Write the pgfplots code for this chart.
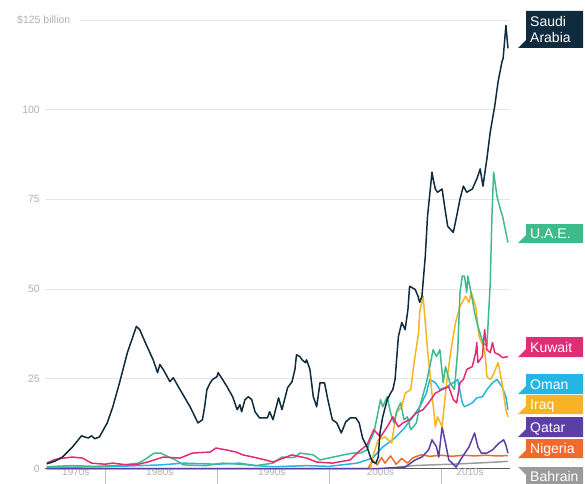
\documentclass[border=0pt]{standalone}
\usepackage{pgfplots}
\pgfplotsset{compat=1.18}
\usepackage{fontspec}
\setmainfont{Liberation Sans}
\definecolor{saudi}{HTML}{0F2B3D}
\definecolor{uae}{HTML}{3DBB8B}
\definecolor{kuwait}{HTML}{E22C76}
\definecolor{oman}{HTML}{22B6E4}
\definecolor{iraq}{HTML}{F6B324}
\definecolor{qatar}{HTML}{5B3FA5}
\definecolor{nigeria}{HTML}{F26A2B}
\definecolor{bahrain}{HTML}{9B9B9B}
\definecolor{tickgray}{HTML}{B0B0B0}
\definecolor{gridgray}{HTML}{E6E6E6}
\newcommand\flag[4]{%
  \fill[#3] (526,{483-#1}) -- (583,{483-#1}) -- (583,{483-#2}) -- (518,{483-#2}) -- (526,{483-#2+8}) -- cycle;
  \node[anchor=base west,inner sep=0pt,text=white,font=\fontsize{14}{16}\selectfont] at (530,{483-#2+5}) {#4};}
\begin{document}
\begin{tikzpicture}
\path[use as bounding box] (0pt,0pt) rectangle (585pt,483pt);
\begin{axis}[
  at={(44.5pt,14.5pt)}, anchor=south west,
  scale only axis, width=465.9pt, height=448.5pt,
  xmin=1974.6, xmax=2016.2, ymin=0, ymax=125,
  clip=false,
  axis x line*=bottom, axis y line*=left,
  x axis line style={draw=black!65, line width=1pt},
  y axis line style={draw=none},
  ytick={0,25,50,75,100}, yticklabels={0,25,50,75,100},
  ymajorgrids, grid style={gridgray, line width=0.9pt},
  yticklabel style={font=\fontsize{10.5}{12}\selectfont, text=tickgray, anchor=east, inner sep=0pt, xshift=-4.5pt},
  xtick={1977.4,1984.9,1994.9,2004.6,2012.6},
  xticklabels={1970s,1980s,1990s,2000s,2010s},
  xticklabel style={font=\fontsize{10}{12}\selectfont, text=tickgray, anchor=north, inner sep=0pt},
  major tick length=0pt, tick align=outside,
  extra x ticks={1980,1990,2000,2010}, extra x tick labels={},
  extra x tick style={major tick length=16pt, tick style={black!25, line width=0.8pt}, grid=none},
  every axis plot/.append style={line width=1.5pt, line join=round, no markers},
]
\draw[gridgray, line width=0.9pt] (axis cs:1977.8,125) -- (axis cs:2016.2,125);
% Bahrain
\addplot[bahrain] coordinates {(2005.0,0) (2006.0,0.3) (2007.5,0.8) (2009,1.0) (2011,1.2) (2013,1.5) (2015,1.8) (2015.98,2.0)};
% Nigeria
\addplot[nigeria] coordinates {(1974.8,0) (2003.5,0) (2003.9,2.4) (2004.3,1.0) (2004.7,3.0) (2005.0,1.5) (2005.5,3.5) (2006.0,1.2) (2006.5,2.8) (2007.0,1.5) (2007.5,3.0) (2008.2,3.8) (2009.0,3.4) (2010.0,3.7) (2011.0,3.4) (2012.0,3.7) (2013.0,3.5) (2014.0,3.7) (2015.0,3.5) (2015.98,3.6)};
% Qatar
\addplot[qatar] coordinates {(1974.8,0) (2004.5,0) (2006.8,0.4) (2007.7,2.4) (2008.3,3.2) (2008.9,5.2) (2009.2,8.0) (2009.6,6.0) (2009.8,3.2) (2010.1,11.6) (2010.4,7.1) (2010.7,2.4) (2011.35,0.4) (2011.9,3.2) (2012.5,6.0) (2013.0,9.9) (2013.3,6.0) (2013.6,4.3) (2014.1,4.3) (2014.6,5.2) (2015.2,7.1) (2015.6,8.0) (2015.8,6.5) (2015.98,4.3)};
% Oman
\addplot[oman] coordinates {(1974.8,0.3) (1980,0.5) (1985,1.0) (1987,1.5) (1990,1.2) (1992,1.5) (1993.5,0.8) (1995,0.5) (1998,0.8) (2000,0.6) (2002.5,1.5) (2003.9,2.9) (2004.8,6.0) (2005.7,8.0) (2006.6,10.8) (2007.5,14.4) (2008.1,17.2) (2008.7,21.0) (2009.0,24.8) (2009.5,23.9) (2009.9,22.0) (2010.5,22.8) (2011.1,23.9) (2011.5,24.8) (2011.9,18.3) (2012.1,17.2) (2012.8,18.3) (2013.2,19.7) (2013.7,20.0) (2014.1,22.0) (2014.6,23.9) (2015.0,24.8) (2015.45,22.8) (2015.8,20.0) (2015.98,16.4)};
% Iraq
\addplot[iraq] coordinates {(2003.7,0.0) (2003.9,3.2) (2004.4,8.0) (2005.0,8.8) (2005.6,7.1) (2006.0,15.5) (2006.5,17.2) (2006.8,21.0) (2007.3,22.0) (2007.6,29.5) (2008.0,37.8) (2008.1,43.5) (2008.4,48.0) (2008.6,40.7) (2008.8,33.1) (2009.1,23.9) (2009.5,11.6) (2009.7,14.4) (2010.1,11.6) (2010.5,23.9) (2010.9,33.1) (2011.3,40.7) (2011.7,45.2) (2012.2,48.0) (2012.5,46.3) (2012.7,49.1) (2013.1,45.2) (2013.4,36.8) (2013.9,33.1) (2014.1,25.6) (2014.4,24.8) (2014.6,25.6) (2015.1,29.5) (2015.45,23.9) (2015.8,16.4) (2015.98,14.4)};
% UAE
\addplot[uae] coordinates {(1974.8,0.5) (1977,0.8) (1979,0.6) (1981,0.8) (1983.0,1.5) (1983.5,2.4) (1984.4,4.3) (1985.0,4.3) (1985.7,3.2) (1986.3,2.4) (1987,1.0) (1989,0.8) (1990.5,1.5) (1992,1.2) (1993.5,0.8) (1995,1.5) (1995.8,3.2) (1996.5,3.0) (1997.0,3.2) (1997.4,4.3) (1998.6,3.8) (1999.2,2.4) (2000.4,3.2) (2001.3,3.8) (2002.1,4.3) (2002.8,4.3) (2003.4,5.2) (2003.7,8.0) (2004.0,9.9) (2004.3,14.4) (2004.6,19.2) (2004.8,17.2) (2005.2,20.0) (2005.5,15.5) (2005.8,12.7) (2006.1,16.4) (2006.4,18.3) (2006.7,13.6) (2007.0,14.4) (2007.3,10.8) (2007.8,12.7) (2008.1,17.2) (2008.7,23.9) (2009.0,28.4) (2009.3,33.1) (2009.6,31.2) (2009.9,33.1) (2010.2,23.9) (2010.4,28.4) (2010.8,23.9) (2011.2,22.0) (2011.5,33.1) (2011.7,49.1) (2011.9,53.6) (2012.1,53.6) (2012.3,49.1) (2012.4,53.6) (2012.8,47.1) (2013.0,43.5) (2013.3,39.6) (2013.75,35.1) (2014.1,34.0) (2014.4,51.8) (2014.55,70.3) (2014.7,82.6) (2015.0,75.9) (2015.3,72.3) (2015.5,70.3) (2015.98,63.0)};
% Kuwait
\addplot[kuwait] coordinates {(1974.8,1.5) (1975.5,2.5) (1976.3,2.9) (1977.1,3.2) (1978.0,2.9) (1978.8,1.5) (1980.0,1.2) (1980.7,1.5) (1982.0,1.0) (1983.0,1.2) (1983.8,1.8) (1985.2,3.2) (1986.7,2.9) (1987.8,4.3) (1989.4,4.6) (1989.9,5.7) (1990.8,5.2) (1991.7,4.6) (1992.3,3.8) (1993.2,3.2) (1994.3,2.4) (1995.0,1.8) (1996.7,3.8) (1998.0,2.9) (1998.9,1.8) (2000.3,1.5) (2001.9,2.4) (2002.5,4.3) (2003.4,6.6) (2004.0,10.8) (2004.6,8.8) (2005.2,11.6) (2005.7,14.4) (2006.2,11.6) (2006.6,12.7) (2007.2,13.6) (2007.8,15.5) (2008.4,16.4) (2008.9,18.3) (2009.5,21.0) (2010.1,22.0) (2010.7,22.8) (2011.1,19.2) (2011.4,18.3) (2011.7,23.9) (2012.0,24.8) (2012.3,27.6) (2012.8,28.4) (2013.1,32.3) (2013.2,35.1) (2013.3,29.5) (2013.7,31.2) (2013.9,38.7) (2014.1,33.1) (2014.4,32.3) (2014.6,35.1) (2014.8,32.3) (2015.2,31.7) (2015.5,30.9) (2015.98,31.2)};
% Saudi Arabia
\addplot[saudi] coordinates {(1974.8,1.3) (1975.5,2.0) (1976.2,3.2) (1977.1,6.0) (1977.9,9.1) (1978.5,8.5) (1978.8,9.1) (1979.1,8.3) (1979.5,8.8) (1980.2,12.7) (1980.7,17.2) (1981.3,23.9) (1982.0,32.3) (1982.4,35.9) (1982.8,39.6) (1983.1,38.7) (1983.6,35.1) (1984.3,30.3) (1984.7,26.7) (1984.9,29.0) (1985.2,27.6) (1985.8,24.2) (1986.1,25.3) (1986.7,22.0) (1987.6,17.2) (1988.3,12.7) (1988.7,13.6) (1988.9,17.2) (1989.1,22.0) (1989.4,23.9) (1989.6,24.8) (1990.0,25.6) (1990.1,26.7) (1990.5,24.8) (1990.9,22.8) (1991.4,20.0) (1991.8,16.4) (1992.05,17.8) (1992.2,15.8) (1992.5,19.2) (1992.8,20.0) (1993.1,19.2) (1993.4,15.8) (1993.8,14.1) (1994.5,14.1) (1994.7,15.8) (1995.0,13.6) (1995.5,19.7) (1995.8,16.4) (1996.1,20.0) (1996.3,22.5) (1996.7,24.2) (1996.96,27.6) (1997.1,31.7) (1997.4,31.2) (1997.6,30.3) (1997.9,29.5) (1998.0,30.3) (1998.3,27.6) (1998.6,20.0) (1998.9,17.2) (1999.2,23.9) (1999.6,23.9) (1999.9,19.2) (2000.3,13.6) (2000.7,12.7) (2001.1,9.9) (2001.5,13.0) (2001.9,14.1) (2002.4,14.1) (2002.7,12.7) (2003.0,8.5) (2003.4,6.0) (2003.7,3.2) (2003.9,1.8) (2004.2,1.5) (2004.4,3.2) (2004.55,9.9) (2004.8,14.4) (2005.2,19.2) (2005.5,21.0) (2005.7,22.0) (2005.9,24.8) (2006.2,36.8) (2006.5,40.7) (2006.8,38.7) (2007.05,44.3) (2007.2,50.8) (2007.7,49.9) (2007.95,48.0) (2008.1,46.3) (2008.3,48.0) (2008.6,59.2) (2008.8,70.3) (2009.2,82.6) (2009.3,80.7) (2009.5,77.9) (2009.7,77.0) (2010.1,77.9) (2010.4,71.5) (2010.6,67.5) (2011.1,65.8) (2011.4,70.3) (2011.7,75.1) (2012.0,78.7) (2012.3,77.0) (2012.8,77.9) (2013.2,80.7) (2013.5,83.5) (2013.75,78.7) (2014.1,86.3) (2014.4,93.8) (2014.8,101.0) (2015.1,107.8) (2015.45,113.4) (2015.55,114.3) (2015.8,123.5) (2015.98,117.1)};
\end{axis}
\node[anchor=west,inner sep=0pt,text=tickgray,font=\fontsize{10.5}{12}\selectfont] at (17pt,463pt) {\$125 billion};
\begin{scope}[x=1pt,y=1pt]
\fill[saudi] (526,472) -- (583,472) -- (583,435) -- (518,435) -- (526,443) -- cycle;
\node[anchor=base west,inner sep=0pt,text=white,font=\fontsize{14}{16}\selectfont] at (530,456) {Saudi};
\node[anchor=base west,inner sep=0pt,text=white,font=\fontsize{14}{16}\selectfont] at (530,440) {Arabia};
\flag{224}{243}{uae}{U.A.E.}
\flag{337}{357}{kuwait}{Kuwait}
\flag{374}{394}{oman}{Oman}
\flag{395}{414}{iraq}{Iraq}
\flag{417}{437}{qatar}{Qatar}
\flag{439}{458}{nigeria}{Nigeria}
\fill[bahrain] (518,16) -- (583,16) -- (583,-3) -- (526,-3) -- (526,8) -- cycle;
\node[anchor=base west,inner sep=0pt,text=white,font=\fontsize{14}{16}\selectfont] at (530,2) {Bahrain};
\end{scope}
\end{tikzpicture}
\end{document}
